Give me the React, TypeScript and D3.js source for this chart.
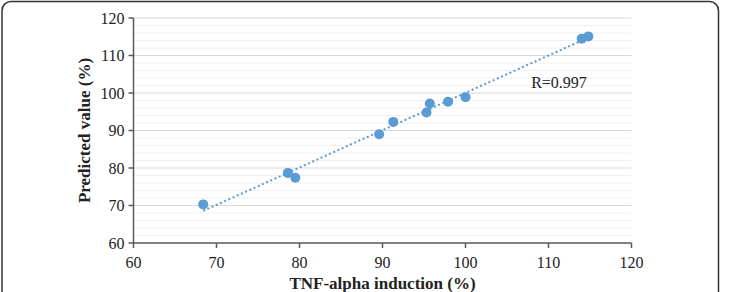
import React from "react";
import * as d3 from "d3";

// TNF-alpha induction (%) vs predicted value (%)
const induction = [68.4, 78.6, 79.5, 89.6, 91.3, 95.3, 95.7, 97.9, 100.0, 114.0, 114.8];
const predicted = [70.3, 78.7, 77.4, 89.0, 92.3, 94.8, 97.2, 97.7, 98.9, 114.5, 115.1];
const xTicks = [60, 70, 80, 90, 100, 110, 120];
const yTicks = [60, 70, 80, 90, 100, 110, 120];
const rLabel = "R=0.997";

const W = 733;
const H = 292;
const left = 133.5;
const right = 631.5;
const top = 18;
const bottom = 243;
const blue = "#5b9bd5";
const serif = "Liberation Serif, Times New Roman, DejaVu Serif, serif";

export default function App() {
  const x = d3.scaleLinear().domain([60, 120]).range([left, right]);
  const y = d3.scaleLinear().domain([60, 120]).range([bottom, top]);

  // least-squares trend line over the points
  const mx = d3.mean(induction)!;
  const my = d3.mean(predicted)!;
  let sxy = 0;
  let sxx = 0;
  induction.forEach((v, i) => {
    sxy += (v - mx) * (predicted[i] - my);
    sxx += (v - mx) * (v - mx);
  });
  const slope = sxy / sxx;
  const icpt = my - slope * mx;
  const [x0, x1] = d3.extent(induction) as [number, number];
  const trend = d3.line<number>()
    .x((d) => x(d))
    .y((d) => y(slope * d + icpt));

  const minor = d3.range(62, 120, 2).filter((v) => v % 10 !== 0);

  return (
    <svg
      width={W}
      height={H}
      style={{ position: "absolute", left: 0, top: 0, background: "#fff", fontFamily: serif }}
    >
      <rect x={2} y={1.5} width={716.5} height={320} rx={9} fill="#fff" stroke="#333" strokeWidth={1.5} />
      {minor.map((v) => (
        <line key={"m" + v} x1={left} x2={right} y1={y(v)} y2={y(v)} stroke="#f0f0f0" strokeWidth={1} />
      ))}
      {yTicks.slice(1).map((v) => (
        <line key={"g" + v} x1={left} x2={right} y1={y(v)} y2={y(v)} stroke="#d9d9d9" strokeWidth={1} />
      ))}
      {/* axes */}
      <line x1={left} x2={left} y1={top} y2={bottom} stroke="#595959" strokeWidth={1.5} />
      <line x1={left} x2={right} y1={bottom} y2={bottom} stroke="#595959" strokeWidth={1.5} />
      {yTicks.map((v) => (
        <g key={"yt" + v}>
          <line x1={left - 5} x2={left} y1={y(v)} y2={y(v)} stroke="#595959" strokeWidth={1.5} />
          <text x={left - 9} y={y(v)} dy="0.35em" textAnchor="end" fontSize={16} fill="#222">{v}</text>
        </g>
      ))}
      {xTicks.map((v) => (
        <g key={"xt" + v}>
          <line x1={x(v)} x2={x(v)} y1={bottom} y2={bottom + 5} stroke="#595959" strokeWidth={1.5} />
          <text x={x(v)} y={bottom + 19} dy="0.35em" textAnchor="middle" fontSize={16} fill="#222">{v}</text>
        </g>
      ))}
      <path d={trend([x0, x1]) || ""} fill="none" stroke={blue} strokeWidth={2} strokeDasharray="2,2.6" />
      {induction.map((v, i) => (
        <circle key={"p" + i} cx={x(v)} cy={y(predicted[i])} r={5} fill={blue} />
      ))}
      <text x={559} y={82} dy="0.35em" textAnchor="middle" fontSize={16} fill="#222">{rLabel}</text>
      <text x={(left + right) / 2} y={289} textAnchor="middle" fontSize={17} fontWeight="bold" fill="#222">
        TNF-alpha induction (%)
      </text>
      <text
        transform={`translate(90, ${(top + bottom) / 2}) rotate(-90)`}
        textAnchor="middle"
        fontSize={17}
        fontWeight="bold"
        fill="#222"
      >
        Predicted value (%)
      </text>
    </svg>
  );
}
